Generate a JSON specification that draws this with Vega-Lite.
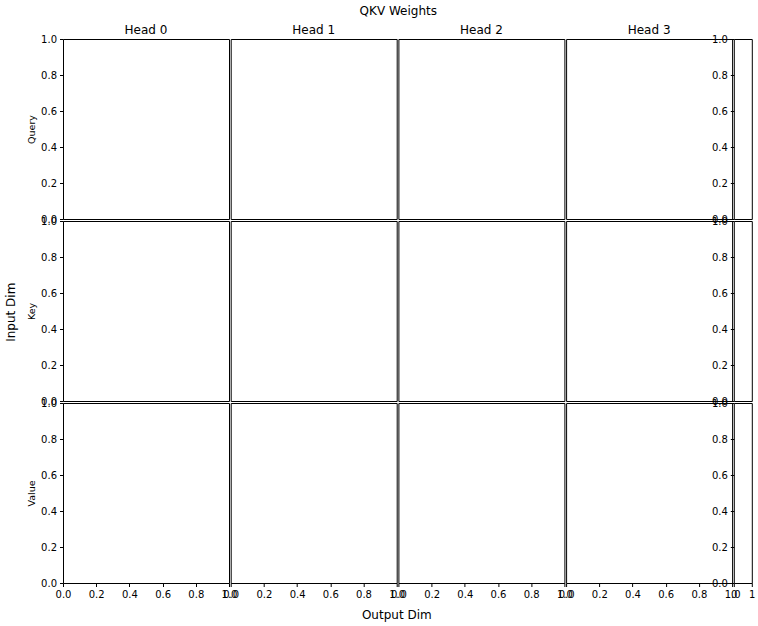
{
  "$schema": "https://vega.github.io/schema/vega-lite/v6.json",
  "background": "white",
  "padding": {"left": 5, "top": 4, "right": 5, "bottom": 5},
  "data": {"values": []},
  "title": {"text": "QKV Weights", "fontSize": 12, "offset": 6, "anchor": "middle", "dx": 18},
  "vconcat": [
    {
      "title": {"text": "Input Dim", "orient": "left", "fontSize": 12, "offset": 8, "anchor": "middle", "dx": 10},
      "vconcat": [
        {
          "title": {"text": "Output Dim", "orient": "bottom", "fontSize": 12, "offset": 10, "anchor": "middle", "dx": 6},
          "columns": 5,
          "spacing": {"row": 2, "column": 1.7},
          "bounds": "flush",
          "concat": [
            {"width": 166, "height": 180, "title": {"text": "Head 0", "offset": -3}, "mark": "point",
             "encoding": {"x": {"field": "x", "type": "quantitative", "scale": {"domain": [0, 1], "nice": false, "zero": false}, "axis": null},
                          "y": {"field": "y", "type": "quantitative", "scale": {"domain": [0, 1], "nice": false, "zero": false}, "axis": {"title": "Query", "values": [0, 0.2, 0.4, 0.6, 0.8, 1], "format": ".1f"}}}},
            {"width": 166, "height": 180, "title": {"text": "Head 1", "offset": 2}, "mark": "point",
             "encoding": {"x": {"field": "x", "type": "quantitative", "scale": {"domain": [0, 1], "nice": false, "zero": false}, "axis": null},
                          "y": {"field": "y", "type": "quantitative", "scale": {"domain": [0, 1], "nice": false, "zero": false}, "axis": null}}},
            {"width": 166, "height": 180, "title": {"text": "Head 2", "offset": 2}, "mark": "point",
             "encoding": {"x": {"field": "x", "type": "quantitative", "scale": {"domain": [0, 1], "nice": false, "zero": false}, "axis": null},
                          "y": {"field": "y", "type": "quantitative", "scale": {"domain": [0, 1], "nice": false, "zero": false}, "axis": null}}},
            {"width": 166, "height": 180, "title": {"text": "Head 3", "offset": 2}, "mark": "point",
             "encoding": {"x": {"field": "x", "type": "quantitative", "scale": {"domain": [0, 1], "nice": false, "zero": false}, "axis": null},
                          "y": {"field": "y", "type": "quantitative", "scale": {"domain": [0, 1], "nice": false, "zero": false}, "axis": null}}},
            {"width": 18, "height": 180, "mark": "point",
             "encoding": {"x": {"field": "x", "type": "quantitative", "scale": {"domain": [0, 1], "nice": false, "zero": false}, "axis": null},
                          "y": {"field": "y", "type": "quantitative", "scale": {"domain": [0, 1], "nice": false, "zero": false}, "axis": {"title": null, "values": [0, 0.2, 0.4, 0.6, 0.8, 1], "format": ".1f"}}}},

            {"width": 166, "height": 180, "mark": "point",
             "encoding": {"x": {"field": "x", "type": "quantitative", "scale": {"domain": [0, 1], "nice": false, "zero": false}, "axis": null},
                          "y": {"field": "y", "type": "quantitative", "scale": {"domain": [0, 1], "nice": false, "zero": false}, "axis": {"title": "Key", "values": [0, 0.2, 0.4, 0.6, 0.8, 1], "format": ".1f"}}}},
            {"width": 166, "height": 180, "mark": "point",
             "encoding": {"x": {"field": "x", "type": "quantitative", "scale": {"domain": [0, 1], "nice": false, "zero": false}, "axis": null},
                          "y": {"field": "y", "type": "quantitative", "scale": {"domain": [0, 1], "nice": false, "zero": false}, "axis": null}}},
            {"width": 166, "height": 180, "mark": "point",
             "encoding": {"x": {"field": "x", "type": "quantitative", "scale": {"domain": [0, 1], "nice": false, "zero": false}, "axis": null},
                          "y": {"field": "y", "type": "quantitative", "scale": {"domain": [0, 1], "nice": false, "zero": false}, "axis": null}}},
            {"width": 166, "height": 180, "mark": "point",
             "encoding": {"x": {"field": "x", "type": "quantitative", "scale": {"domain": [0, 1], "nice": false, "zero": false}, "axis": null},
                          "y": {"field": "y", "type": "quantitative", "scale": {"domain": [0, 1], "nice": false, "zero": false}, "axis": null}}},
            {"width": 18, "height": 180, "mark": "point",
             "encoding": {"x": {"field": "x", "type": "quantitative", "scale": {"domain": [0, 1], "nice": false, "zero": false}, "axis": null},
                          "y": {"field": "y", "type": "quantitative", "scale": {"domain": [0, 1], "nice": false, "zero": false}, "axis": {"title": null, "values": [0, 0.2, 0.4, 0.6, 0.8, 1], "format": ".1f"}}}},

            {"width": 166, "height": 180, "mark": "point",
             "encoding": {"x": {"field": "x", "type": "quantitative", "scale": {"domain": [0, 1], "nice": false, "zero": false}, "axis": {"title": null, "values": [0, 0.2, 0.4, 0.6, 0.8, 1], "format": ".1f"}},
                          "y": {"field": "y", "type": "quantitative", "scale": {"domain": [0, 1], "nice": false, "zero": false}, "axis": {"title": "Value", "values": [0, 0.2, 0.4, 0.6, 0.8, 1], "format": ".1f"}}}},
            {"width": 166, "height": 180, "mark": "point",
             "encoding": {"x": {"field": "x", "type": "quantitative", "scale": {"domain": [0, 1], "nice": false, "zero": false}, "axis": {"title": null, "values": [0, 0.2, 0.4, 0.6, 0.8, 1], "format": ".1f"}},
                          "y": {"field": "y", "type": "quantitative", "scale": {"domain": [0, 1], "nice": false, "zero": false}, "axis": null}}},
            {"width": 166, "height": 180, "mark": "point",
             "encoding": {"x": {"field": "x", "type": "quantitative", "scale": {"domain": [0, 1], "nice": false, "zero": false}, "axis": {"title": null, "values": [0, 0.2, 0.4, 0.6, 0.8, 1], "format": ".1f"}},
                          "y": {"field": "y", "type": "quantitative", "scale": {"domain": [0, 1], "nice": false, "zero": false}, "axis": null}}},
            {"width": 166, "height": 180, "mark": "point",
             "encoding": {"x": {"field": "x", "type": "quantitative", "scale": {"domain": [0, 1], "nice": false, "zero": false}, "axis": {"title": null, "values": [0, 0.2, 0.4, 0.6, 0.8, 1], "format": ".1f"}},
                          "y": {"field": "y", "type": "quantitative", "scale": {"domain": [0, 1], "nice": false, "zero": false}, "axis": null}}},
            {"width": 18, "height": 180, "mark": "point",
             "encoding": {"x": {"field": "x", "type": "quantitative", "scale": {"domain": [0, 1], "nice": false, "zero": false}, "axis": {"title": null, "values": [0, 1], "format": "d"}},
                          "y": {"field": "y", "type": "quantitative", "scale": {"domain": [0, 1], "nice": false, "zero": false}, "axis": {"title": null, "values": [0, 0.2, 0.4, 0.6, 0.8, 1], "format": ".1f"}}}}
          ]
        }
      ]
    }
  ],
  "config": {
    "font": "DejaVu Sans",
    "view": {"stroke": "black", "strokeWidth": 1},
    "axis": {
      "grid": false, "domain": false, "ticks": true, "tickColor": "black", "tickSize": 3.5,
      "labelFont": "DejaVu Sans", "labelFontSize": 10, "labelColor": "black", "labelPadding": 3,
      "labelFlush": false, "labelOverlap": false, "labelBound": false,
      "titleFont": "DejaVu Sans", "titleFontSize": 9.5, "titleFontWeight": "normal", "titleColor": "black", "titlePadding": 4
    },
    "title": {"font": "DejaVu Sans", "fontSize": 12, "fontWeight": "normal", "color": "black", "offset": 5}
  }
}
